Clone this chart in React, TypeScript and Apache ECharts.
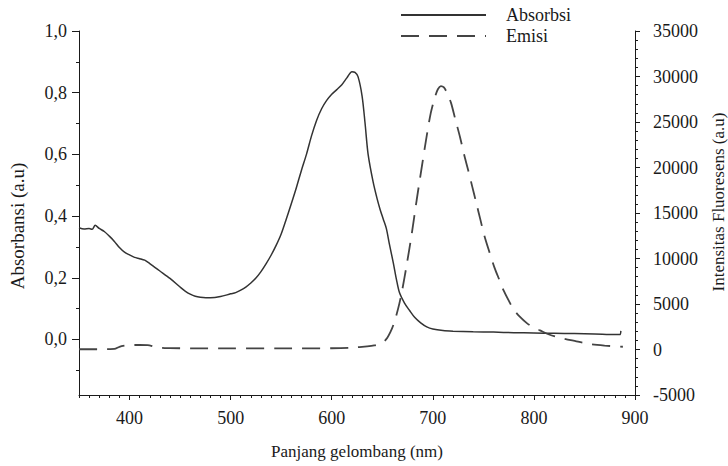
import React, { useEffect, useRef } from "react";
import * as echarts from "echarts";

// Absorbance spectrum (left axis)
const absWavelength = [350, 355, 360, 363, 366, 370, 375, 380, 385, 390, 395, 400, 405, 410, 415, 420, 425, 430, 440, 450, 455, 460, 465, 470, 480, 490, 500, 505, 510, 515, 520, 525, 530, 535, 540, 545, 550, 555, 560, 565, 570, 575, 580, 585, 590, 595, 600, 605, 610, 615, 620, 623, 626, 630, 633, 636, 641, 645, 648, 651, 654, 657, 661, 664, 667, 672, 677, 682, 688, 694, 700, 710, 720, 740, 760, 780, 800, 820, 840, 860, 880, 885, 886];
const absValues = [0.362, 0.358, 0.36, 0.357, 0.37, 0.36, 0.35, 0.335, 0.318, 0.298, 0.283, 0.274, 0.266, 0.262, 0.257, 0.246, 0.234, 0.222, 0.198, 0.17, 0.157, 0.147, 0.14, 0.137, 0.135, 0.139, 0.148, 0.152, 0.16, 0.17, 0.183, 0.199, 0.22, 0.245, 0.273, 0.305, 0.342, 0.39, 0.44, 0.492, 0.548, 0.6, 0.66, 0.71, 0.748, 0.775, 0.795, 0.81, 0.826, 0.848, 0.868, 0.866, 0.852, 0.79, 0.7, 0.6, 0.51, 0.455, 0.42, 0.39, 0.36, 0.31, 0.247, 0.195, 0.152, 0.118, 0.094, 0.072, 0.054, 0.041, 0.034, 0.029, 0.027, 0.025, 0.024, 0.022, 0.021, 0.02, 0.019, 0.018, 0.016, 0.016, 0.028];

// Emission spectrum (right axis)
const emiWavelength = [350, 360, 370, 380, 385, 390, 395, 400, 410, 418, 425, 432, 440, 460, 500, 550, 600, 620, 635, 642, 647, 651, 655, 658, 661, 664, 667, 670, 674, 679, 684, 689, 694, 698, 702, 705, 708, 711, 714, 718, 722, 727, 731, 735, 739, 743, 747, 751, 756, 761, 766, 770, 775, 780, 786, 793, 800, 806, 815, 829, 842, 855, 870, 888];
const emiValues = [30, 30, 30, 40, 60, 300, 420, 480, 500, 490, 300, 180, 150, 130, 120, 120, 140, 200, 350, 450, 600, 800, 1300, 1900, 2700, 3800, 5100, 6700, 9200, 12600, 16400, 20000, 23500, 26000, 27700, 28600, 28950, 28800, 28200, 27100, 25400, 23300, 21400, 19700, 17900, 16100, 14300, 12500, 10700, 9000, 7600, 6500, 5400, 4400, 3600, 2900, 2400, 2100, 1650, 1200, 900, 600, 430, 300];

const xMajorTicks = [400, 500, 600, 700, 800, 900];
const xMinorTicks = [350, 360, 370, 380, 390, 410, 420, 430, 440, 450, 460, 470, 480, 490, 510, 520, 530, 540, 550, 560, 570, 580, 590, 610, 620, 630, 640, 650, 660, 670, 680, 690, 710, 720, 730, 740, 750, 760, 770, 780, 790, 810, 820, 830, 840, 850, 860, 870, 880, 890];
const leftMajorTicks = [0, 0.2, 0.4, 0.6, 0.8, 1.0];
const leftMinorTicks = [-0.1, 0.1, 0.3, 0.5, 0.7, 0.9];

const FONT = "'Liberation Serif', 'Times New Roman', serif";
const INK = "#1a1a1a";

export default function App() {
  const ref = useRef<HTMLDivElement>(null);
  useEffect(() => {
    document.body.style.margin = "0";
    const chart = echarts.init(ref.current!, undefined, { renderer: "svg" });
    const absData = absWavelength.map((w, i) => [w, absValues[i]]);
    const emiData = emiWavelength.map((w, i) => [w, emiValues[i]]);
    chart.setOption({
      animation: false,
      backgroundColor: "#ffffff",
      grid: { left: 79, right: 93, top: 31, bottom: 71, outerBoundsMode: "none", containLabel: false },
      legend: {
        orient: "vertical",
        left: 400,
        top: 6,
        padding: 0,
        itemWidth: 85,
        itemHeight: 14,
        itemGap: 3,
        itemStyle: { opacity: 0 },
        textStyle: { fontFamily: FONT, fontSize: 18, color: INK, padding: [0, 0, 0, 15] },
        data: ["Absorbsi", "Emisi"],
      },
      xAxis: [
        {
          type: "value",
          min: 350,
          max: 900,
          name: "Panjang gelombang (nm)",
          nameLocation: "middle",
          nameGap: 48,
          nameTextStyle: { fontFamily: FONT, fontSize: 17, color: INK },
          axisLine: { show: true, onZero: false, lineStyle: { color: INK, width: 1 } },
          axisTick: { show: true, customValues: xMajorTicks, length: 5, lineStyle: { color: INK } },
          axisLabel: { customValues: xMajorTicks, fontFamily: FONT, fontSize: 18, color: INK, margin: 14 },
          splitLine: { show: false },
        },
        {
          type: "value",
          min: 350,
          max: 900,
          position: "bottom",
          axisLine: { show: false, onZero: false },
          axisTick: { show: true, customValues: xMinorTicks, length: 3, lineStyle: { color: INK } },
          axisLabel: { show: false },
          splitLine: { show: false },
        },
      ],
      yAxis: [
        {
          type: "value",
          min: -0.18,
          max: 1.0,
          position: "left",
          name: "Absorbansi (a.u)",
          nameLocation: "middle",
          nameRotate: 90,
          nameGap: 52,
          nameTextStyle: { fontFamily: FONT, fontSize: 19, color: INK, padding: [0, 26, 0, 0] },
          axisLine: { show: true, onZero: false, lineStyle: { color: INK, width: 1 } },
          axisTick: { show: true, customValues: leftMajorTicks, length: 7, lineStyle: { color: INK } },
          axisLabel: {
            customValues: leftMajorTicks,
            fontFamily: FONT,
            fontSize: 18,
            color: INK,
            margin: 12,
            formatter: (v: number) => v.toFixed(1).replace(".", ","),
          },
          splitLine: { show: false },
        },
        {
          type: "value",
          min: -5000,
          max: 35000,
          interval: 5000,
          position: "right",
          name: "Intensitas Fluoresens (a.u)",
          nameLocation: "middle",
          nameRotate: 90,
          nameGap: 75,
          nameTextStyle: { fontFamily: FONT, fontSize: 17, color: INK, padding: [0, 0, 0, 22] },
          axisLine: { show: true, onZero: false, lineStyle: { color: INK, width: 1 } },
          axisTick: { show: true, length: 5, lineStyle: { color: INK } },
          minorTick: { show: true, splitNumber: 5, length: 3, lineStyle: { color: INK } },
          axisLabel: {
            fontFamily: FONT,
            fontSize: 18,
            color: INK,
            margin: 18,
            formatter: (v: number) => String(v),
          },
          splitLine: { show: false },
        },
        {
          type: "value",
          min: -0.18,
          max: 1.0,
          position: "left",
          axisLine: { show: false, onZero: false },
          axisTick: { show: true, customValues: leftMinorTicks, length: 3, lineStyle: { color: INK } },
          axisLabel: { show: false },
          splitLine: { show: false },
        },
      ],
      series: [
        {
          name: "Absorbsi",
          type: "line",
          xAxisIndex: 0,
          yAxisIndex: 0,
          data: absData,
          symbol: "none",
          smooth: 0.3,
          lineStyle: { color: "#333333", width: 1.5, type: "solid" },
          itemStyle: { color: "#333333" },
        },
        {
          name: "Emisi",
          type: "line",
          xAxisIndex: 0,
          yAxisIndex: 1,
          data: emiData,
          symbol: "none",
          smooth: 0.3,
          lineStyle: { color: "#444444", width: 1.8, type: [18, 10] },
          itemStyle: { color: "#444444" },
        },
      ],
    });
    return () => chart.dispose();
  }, []);
  return <div ref={ref} style={{ width: 728, height: 466 }} />;
}
